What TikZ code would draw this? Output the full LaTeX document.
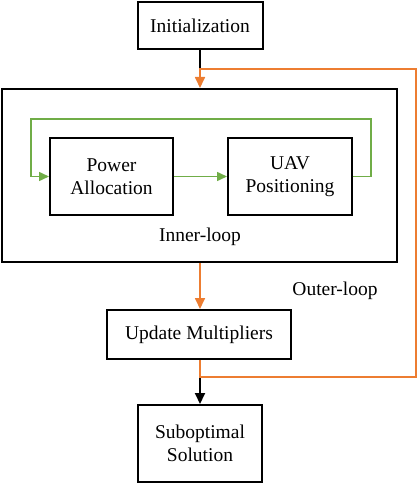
\documentclass[tikz,border=0pt]{standalone}
\usepackage{fontspec}
\setmainfont{Liberation Serif}
\usetikzlibrary{arrows.meta}
\definecolor{loopor}{RGB}{237,125,49}
\definecolor{loopgr}{RGB}{112,173,71}
\begin{document}
\begin{tikzpicture}[x=1pt,y=-1pt,
  box/.style={draw, line width=2pt, align=center, font=\fontsize{19.5}{23.5}\selectfont, inner sep=0pt},
  lbl/.style={font=\fontsize{19.5}{23.5}\selectfont, inner sep=0pt},
  orl/.style={draw=loopor, line width=1.7pt},
  grl/.style={draw=loopgr, line width=1.5pt},
  blk/.style={draw=black, line width=2pt},
  ortip/.style={-{Triangle[width=10pt,length=11pt]}},
  grtip/.style={-{Triangle[width=9pt,length=10pt]}}
]
\useasboundingbox (0,0) rectangle (418,486);
\node[box, minimum width=125, minimum height=47] (init) at (200,25.5) {Initialization};
\node[box, minimum width=395, minimum height=173] (big) at (199.5,175.5) {};
\node[box, minimum width=123, minimum height=77] (pow) at (111.5,176.5) {Power\\Allocation};
\node[box, minimum width=124, minimum height=77] (uav) at (290,176.5) {UAV\\Positioning};
\node[lbl] (inner) at (200,237) {Inner-loop};
\node[box, minimum width=184, minimum height=49] (upd) at (199,334.5) {Update Multipliers};
\node[lbl] (outer) at (335,291) {Outer-loop};
\node[box, minimum width=124, minimum height=77] (sub) at (200,443.5) {Suboptimal\\Solution};
\coordinate (gl) at (31,119);
\coordinate (gr) at (371,119);
\coordinate (ob) at (416,377);
\coordinate (ot) at (416,69);
% inner loop
\draw[grl, grtip] (pow.east) -- (uav.west);
\draw[grl, grtip] (uav.east) -| (gr) -- (gl) |- (pow.west);
% black connectors
\draw[blk] (init.south) -- (init.south |- ot);
\draw[blk, -{Triangle[width=10pt,length=11pt]}] (upd.south -| sub.north) -- (sub.north);
% outer loop
\draw[orl, ortip] (big.south -| init.south) -- (upd.north -| init.south);
\draw[orl, ortip] (upd.south -| init.south) |- (ob) -- (ot) -| (big.north -| init.south);
\end{tikzpicture}
\end{document}
